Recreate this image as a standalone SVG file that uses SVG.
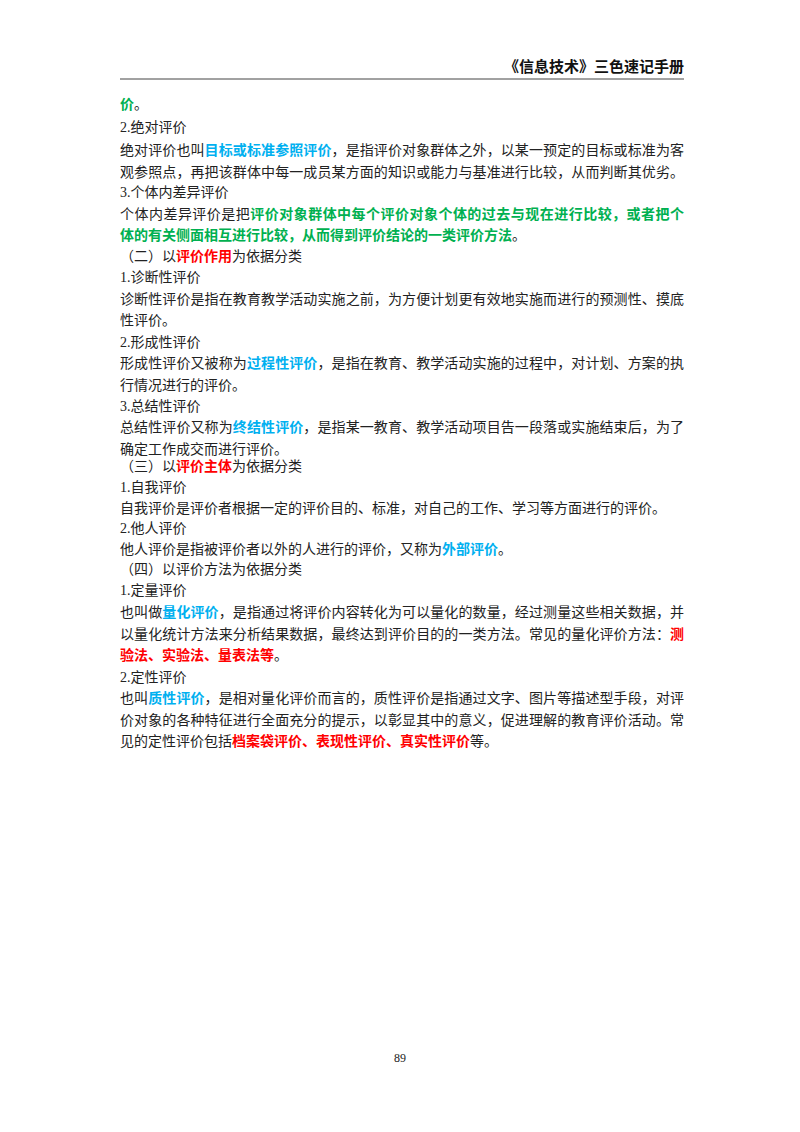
<svg xmlns="http://www.w3.org/2000/svg" width="800" height="1132" viewBox="0 0 800 1132">
<style>
text{font-family:"Liberation Serif","Noto Sans CJK SC",serif;font-size:14px;fill:#222}
.g{fill:#00b050;font-weight:bold}
.b{fill:#00b0f0;font-weight:bold}
.r{fill:#ff0000;font-weight:bold}
.h{font-weight:bold;font-size:15px;fill:#111}
</style>
<rect width="800" height="1132" fill="#fff"/>
<g id="header">
<text class="h" x="684" y="72" text-anchor="end">《信息技术》三色速记手册</text>
<line x1="120" y1="79" x2="684" y2="79" stroke="#444" stroke-width="1"/>
</g>
<g id="body">
<text x="120" y="109"><tspan class="g">价</tspan>。</text>
<text x="120" y="132">2.绝对评价</text>
<text x="120" y="155" textLength="564" lengthAdjust="spacing">绝对评价也叫<tspan class="b">目标或标准参照评价</tspan>，是指评价对象群体之外，以某一预定的目标或标准为客</text>
<text x="120" y="177" textLength="564" lengthAdjust="spacing">观参照点，再把该群体中每一成员某方面的知识或能力与基准进行比较，从而判断其优劣。</text>
<text x="120" y="197">3.个体内差异评价</text>
<text x="120" y="219" textLength="564" lengthAdjust="spacing">个体内差异评价是把<tspan class="g">评价对象群体中每个评价对象个体的过去与现在进行比较，或者把个</tspan></text>
<text x="120" y="240"><tspan class="g">体的有关侧面相互进行比较，从而得到评价结论的一类评价方法</tspan>。</text>
<text x="120" y="261">（二）以<tspan class="r">评价作用</tspan>为依据分类</text>
<text x="120" y="282">1.诊断性评价</text>
<text x="120" y="304" textLength="564" lengthAdjust="spacing">诊断性评价是指在教育教学活动实施之前，为方便计划更有效地实施而进行的预测性、摸底</text>
<text x="120" y="325">性评价。</text>
<text x="120" y="347">2.形成性评价</text>
<text x="120" y="368" textLength="564" lengthAdjust="spacing">形成性评价又被称为<tspan class="b">过程性评价</tspan>，是指在教育、教学活动实施的过程中，对计划、方案的执</text>
<text x="120" y="390">行情况进行的评价。</text>
<text x="120" y="411">3.总结性评价</text>
<text x="120" y="432" textLength="564" lengthAdjust="spacing">总结性评价又称为<tspan class="b">终结性评价</tspan>，是指某一教育、教学活动项目告一段落或实施结束后，为了</text>
<text x="120" y="454">确定工作成交而进行评价。</text>
<text x="120" y="471">（三）以<tspan class="r">评价主体</tspan>为依据分类</text>
<text x="120" y="492">1.自我评价</text>
<text x="120" y="513">自我评价是评价者根据一定的评价目的、标准，对自己的工作、学习等方面进行的评价。</text>
<text x="120" y="533">2.他人评价</text>
<text x="120" y="554">他人评价是指被评价者以外的人进行的评价，又称为<tspan class="b">外部评价</tspan>。</text>
<text x="120" y="574">（四）以评价方法为依据分类</text>
<text x="120" y="595">1.定量评价</text>
<text x="120" y="617" textLength="564" lengthAdjust="spacing">也叫做<tspan class="b">量化评价</tspan>，是指通过将评价内容转化为可以量化的数量，经过测量这些相关数据，并</text>
<text x="120" y="639" textLength="564" lengthAdjust="spacing">以量化统计方法来分析结果数据，最终达到评价目的的一类方法。常见的量化评价方法：<tspan class="r">测</tspan></text>
<text x="120" y="660"><tspan class="r">验法、实验法、量表法等</tspan>。</text>
<text x="120" y="682">2.定性评价</text>
<text x="120" y="703" textLength="564" lengthAdjust="spacing">也叫<tspan class="b">质性评价</tspan>，是相对量化评价而言的，质性评价是指通过文字、图片等描述型手段，对评</text>
<text x="120" y="725" textLength="564" lengthAdjust="spacing">价对象的各种特征进行全面充分的提示，以彰显其中的意义，促进理解的教育评价活动。常</text>
<text x="120" y="746">见的定性评价包括<tspan class="r">档案袋评价、表现性评价、真实性评价</tspan>等。</text>
</g>
<g id="footer">
<text x="400" y="1062" text-anchor="middle" style="font-size:12px">89</text>
</g>
</svg>
